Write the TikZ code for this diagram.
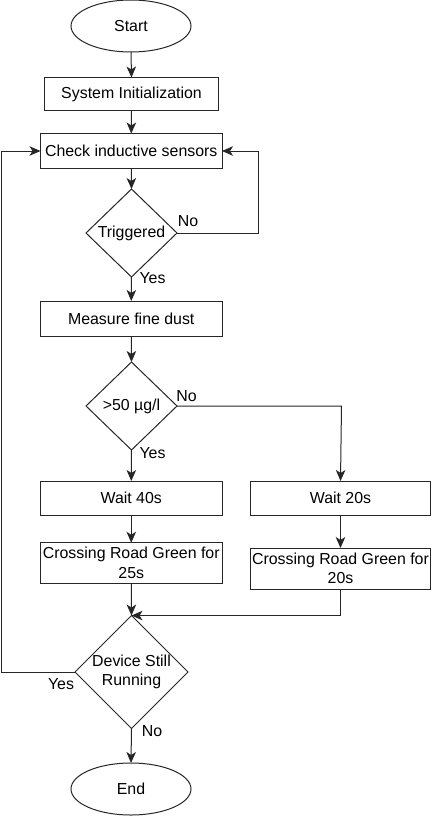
\documentclass[tikz,border=0pt]{standalone}
\usepackage{fontspec}
\setmainfont{Liberation Sans}
\usetikzlibrary{shapes.geometric,arrows.meta}
\begin{document}
\begin{tikzpicture}[x=1pt,y=-1pt,
  every node/.style={font=\fontsize{15.9}{19.5}\selectfont, inner sep=0pt, outer sep=0pt},
  proc/.style={draw=black!85, line width=1pt, rectangle, align=center},
  term/.style={draw=black!85, line width=1pt, ellipse, minimum width=120pt, minimum height=52pt},
  dec/.style={draw=black!85, line width=1pt, diamond, align=center},
  conn/.style={draw=black!85, line width=1pt, -{Stealth[length=11pt,width=9.5pt,inset=3pt]}},
  lbl/.style={anchor=center}
]
\useasboundingbox (0,0) rectangle (432,816);
% nodes
\node[term] (start) at (131,26) {Start};
\node[proc, minimum width=174pt, minimum height=33pt] (init) at (131.5,94) {System Initialization};
\node[proc, minimum width=181.5pt, minimum height=35pt] (check) at (131.25,151) {Check inductive sensors};
\node[dec, minimum width=91pt, minimum height=88pt] (trig) at (131.5,233) {Triggered};
\node[proc, minimum width=181.5pt, minimum height=35pt] (measure) at (131.25,318.5) {Measure fine dust};
\node[dec, minimum width=91pt, minimum height=88pt] (dust) at (131.5,406) {>50 µg/l};
\node[proc, minimum width=181.5pt, minimum height=34pt] (w40) at (131.25,498) {Wait 40s};
\node[proc, minimum width=180pt, minimum height=34pt] (w20) at (340.5,498) {Wait 20s};
\node[proc, minimum width=181.5pt, minimum height=40.5pt] (c25) at (131.25,563) {Crossing Road Green for\\25s};
\node[proc, minimum width=180pt, minimum height=41pt] (c20) at (340.5,568.5) {Crossing Road Green for\\20s};
\node[dec, minimum width=112pt, minimum height=107pt] (dev) at (131.5,672) {Device Still\\Running};
\node[term] (end) at (131,789) {End};
% helper coordinates
\coordinate (trigR) at (258,233);
\coordinate (checkR) at (258,151);
\coordinate (dustR) at (341.5,406);
\coordinate (join) at (c20.south |- dev.north);
\coordinate (devL) at (1,672);
\coordinate (checkL) at (1,151);
% connectors
\draw[conn] (start.south) -- (init.north);
\draw[conn] (init.south) -- (check.north);
\draw[conn] (check.south) -- (trig.north);
\draw[conn] (trig.east) -- (trigR) -- (checkR) -- (check.east);
\draw[conn] (trig.south) -- (measure.north);
\draw[conn] (measure.south) -- (dust.north);
\draw[conn] (dust.south) -- (w40.north);
\draw[conn] (dust.east) -- (dustR) -- (w20.north);
\draw[conn] (w40.south) -- (c25.north);
\draw[conn] (w20.south) -- (c20.north);
\draw[conn] (c25.south) -- (dev.north);
\draw[conn] (c20.south) -- (join) -- (dev.north);
\draw[conn] (dev.west) -- (devL) -- (checkL) -- (check.west);
\draw[conn] (dev.south) -- (end.north);
% labels
\node[lbl] (l1) at (188,221) {No};
\node[lbl] (l2) at (152.5,278.5) {Yes};
\node[lbl] (l3) at (186.5,396) {No};
\node[lbl] (l4) at (152.5,453) {Yes};
\node[lbl] (l5) at (61,684.5) {Yes};
\node[lbl] (l6) at (152,731.5) {No};
\end{tikzpicture}
\end{document}
